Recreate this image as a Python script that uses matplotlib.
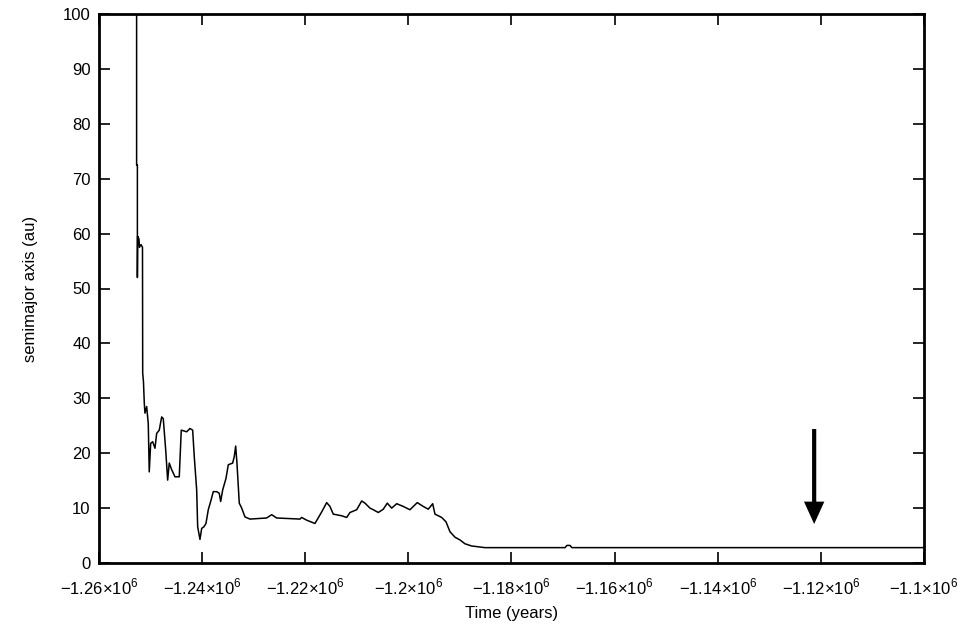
import matplotlib
matplotlib.use('Agg')
import matplotlib.pyplot as plt

plt.rcParams['font.family'] = ['Liberation Sans Narrow', 'Liberation Sans', 'DejaVu Sans']
plt.rcParams['mathtext.fontset'] = 'custom'
plt.rcParams['mathtext.rm'] = 'Liberation Sans'

# time (years) and semimajor axis (au)
times = [-1252700, -1252700, -1252550, -1252550, -1252500, -1252240, -1252150,
         -1251850, -1251560, -1251520, -1251370, -1251210, -1251080, -1250750,
         -1250440, -1250250, -1249970, -1249590, -1249140, -1248810, -1248310,
         -1247840, -1247530, -1247060, -1246680, -1246370, -1245900, -1245260,
         -1244430, -1244040, -1242990, -1242350, -1241830, -1241520, -1241050,
         -1240860, -1240410, -1240080, -1239640, -1239250, -1238800, -1238340,
         -1237830, -1237170, -1236670, -1236400, -1236010, -1235370, -1234920,
         -1234070, -1233760, -1233490, -1233240, -1232790, -1232320, -1231690,
         -1230720, -1227480, -1226510, -1225540, -1221020, -1220690, -1219720,
         -1218110, -1216810, -1215840, -1215200, -1214560, -1212930, -1211960,
         -1211320, -1210020, -1209050, -1208410, -1207440, -1206800, -1205830,
         -1204860, -1204090, -1203230, -1202260, -1200980, -1199690, -1198270,
         -1197110, -1196140, -1195280, -1194840, -1193540, -1192700, -1191930,
         -1190960, -1189990, -1189020, -1187720, -1185140, -1169620, -1169240,
         -1168650, -1168270, -1100000]
semimajor = [130, 72.5, 72.5, 52.0, 59.5, 59.0, 57.5,
             58.0, 57.5, 34.6, 33.0, 29.1, 27.3, 28.5,
             25.4, 16.6, 21.8, 22.1, 20.9, 23.6, 24.2,
             26.6, 26.3, 20.6, 15.1, 18.2, 17.0, 15.7,
             15.7, 24.2, 23.9, 24.5, 24.2, 19.4, 13.3,
             6.6, 4.3, 6.3, 6.6, 7.2, 9.7, 11.2,
             13.0, 13.0, 12.7, 11.2, 13.3, 15.4, 17.9,
             18.2, 19.4, 21.3, 18.2, 10.9, 10.0, 8.4,
             8.0, 8.2, 8.8, 8.2, 8.0, 8.3, 7.8,
             7.2, 9.3, 11.0, 10.3, 8.9, 8.6, 8.3,
             9.2, 9.7, 11.3, 10.9, 10.0, 9.7, 9.2,
             9.8, 10.9, 10.0, 10.8, 10.3, 9.7, 11.0,
             10.3, 9.8, 10.8, 8.9, 8.3, 7.5, 5.7,
             4.7, 4.2, 3.5, 3.1, 2.8, 2.8, 3.2,
             3.2, 2.8, 2.8]

xticks = [-1.26e6, -1.24e6, -1.22e6, -1.2e6, -1.18e6, -1.16e6, -1.14e6, -1.12e6, -1.1e6]
xticklabels = [r'$-1.26{\times}10^6$', r'$-1.24{\times}10^6$', r'$-1.22{\times}10^6$',
               r'$-1.2{\times}10^6$', r'$-1.18{\times}10^6$', r'$-1.16{\times}10^6$',
               r'$-1.14{\times}10^6$', r'$-1.12{\times}10^6$', r'$-1.1{\times}10^6$']
yticks = [0, 10, 20, 30, 40, 50, 60, 70, 80, 90, 100]

arrow_x = -1.1213e6
arrow_top = 24.4
arrow_tip = 7.1

fig = plt.figure(figsize=(9.59, 6.25), dpi=100)
ax = fig.add_axes([0.1032, 0.0992, 0.8603, 0.8784])

ax.plot(times, semimajor, color='black', lw=1.1)
ax.annotate('', xy=(arrow_x, arrow_tip), xytext=(arrow_x, arrow_top),
            arrowprops=dict(arrowstyle='-|>,head_width=0.5,head_length=1.1',
                            color='black', lw=3, shrinkA=0, shrinkB=0,
                            joinstyle='miter', capstyle='butt'))

ax.set_xlim(-1.26e6, -1.1e6)
ax.set_ylim(0, 100)
ax.set_xticks(xticks)
ax.set_xticklabels(xticklabels, fontsize=12)
ax.set_yticks(yticks)
ax.tick_params(axis='y', labelsize=12, pad=6)
ax.tick_params(axis='x', pad=10)
ax.tick_params(direction='in', length=8, width=1.2, top=True, right=True)
for s in ax.spines.values():
    s.set_linewidth(2)

ax.set_xlabel('Time (years)', fontsize=12, labelpad=6)
ax.set_ylabel('semimajor axis (au)', fontsize=12, labelpad=18)

fig.savefig('out.png', dpi=100)
